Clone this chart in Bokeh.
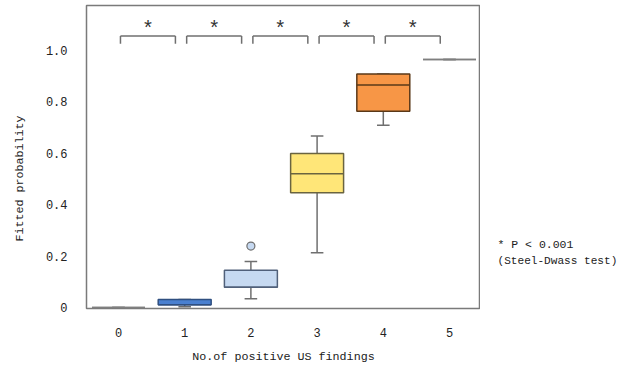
import math
from bokeh.plotting import figure
from bokeh.layouts import row
from bokeh.models import Range1d, FixedTicker, ColumnDataSource, CustomJSTickFormatter
from bokeh.core.properties import value
from bokeh.embed import file_html
from bokeh.resources import INLINE

# ---- data ----
categories = [0, 1, 2, 3, 4, 5]
whisker_low = [0.0, 0.003, 0.034, 0.213, 0.709, 0.965]
q1 = [0.0, 0.011, 0.079, 0.446, 0.764, 0.965]
median = [0.0, 0.011, 0.079, 0.520, 0.866, 0.965]
q3 = [0.0, 0.031, 0.145, 0.599, 0.908, 0.965]
whisker_high = [0.0, 0.031, 0.179, 0.667, 0.908, 0.965]
outlier_x = [2]
outlier_y = [0.239]
comparisons = [(0, 1), (1, 2), (2, 3), (3, 4), (4, 5)]
y_ticks = [0, 0.2, 0.4, 0.6, 0.8, 1.0]
note_lines = ["* P < 0.001", "(Steel-Dwass test)"]

fills = ["#7f7f7f", "#4a80d0", "#c6d9f1", "#ffe678", "#f79646", "#7f7f7f"]
edges = ["#7f7f7f", "#2f4f80", "#50607a", "#6a6440", "#5a3818", "#7f7f7f"]

FONT = "Liberation Mono"
H = 367
LW = 30     # width of the strip that holds the y-axis title
RW = 138    # width of the strip that holds the note
FRAME_TOP, FRAME_BOTTOM = 5, 308

# ---------- main plot ----------
p = figure(width=618 - LW - RW, height=H,
           x_range=Range1d(-0.483, 5.468), y_range=Range1d(-0.004, 1.175),
           output_backend="svg", toolbar_location=None,
           min_border_left=86 - LW, min_border_right=0,
           min_border_top=FRAME_TOP, min_border_bottom=H - FRAME_BOTTOM)
p.xgrid.visible = False
p.ygrid.visible = False
p.outline_line_color = "#7a7a7a"
p.outline_line_width = 1.5
p.background_fill_color = "white"
p.border_fill_color = "white"

for ax in (p.xaxis[0], p.yaxis[0]):
    ax.axis_line_color = None
    ax.major_tick_line_color = None
    ax.minor_tick_line_color = None
    ax.major_tick_out = 0
    ax.major_tick_in = 0
    ax.minor_tick_out = 0
    ax.major_label_text_font = FONT
    ax.major_label_text_font_size = "12px"
    ax.major_label_text_color = "#222222"
    ax.axis_label_text_font = FONT
    ax.axis_label_text_font_size = "11.7px"
    ax.axis_label_text_font_style = "normal"
    ax.axis_label_text_color = "#222222"

p.xaxis.ticker = FixedTicker(ticks=categories)
p.xaxis.major_label_standoff = 19
p.xaxis.axis_label = "No.of positive US findings"
p.xaxis.axis_label_standoff = 10

p.yaxis.ticker = FixedTicker(ticks=y_ticks)
p.yaxis.formatter = CustomJSTickFormatter(code="return Math.abs(tick) < 1e-9 ? '0' : tick.toFixed(1);")
p.yaxis.major_label_standoff = 19

bw = 0.8
cap = 0.19
src = ColumnDataSource(dict(
    x=categories, lo=whisker_low, q1=q1, med=median, q3=q3, hi=whisker_high,
    left=[c - bw / 2 for c in categories], right=[c + bw / 2 for c in categories],
    cl=[c - cap / 2 for c in categories], cr=[c + cap / 2 for c in categories],
    fill=fills, edge=edges,
))

# whiskers
p.segment(x0="x", y0="lo", x1="x", y1="q1", source=src, line_color="#6f6f6f", line_width=1.5)
p.segment(x0="x", y0="q3", x1="x", y1="hi", source=src, line_color="#6f6f6f", line_width=1.5)
p.segment(x0="cl", y0="lo", x1="cr", y1="lo", source=src, line_color="#6f6f6f", line_width=1.5)
p.segment(x0="cl", y0="hi", x1="cr", y1="hi", source=src, line_color="#6f6f6f", line_width=1.5)
# boxes
p.quad(left="left", right="right", bottom="q1", top="q3", source=src,
       fill_color="fill", line_color="edge", line_width=1.5)
# medians
p.segment(x0="left", y0="med", x1="right", y1="med", source=src, line_color="edge", line_width=1.5)

# outliers
p.scatter(outlier_x, outlier_y, size=8, fill_color="#c6d9f1", line_color="#6f6f6f", line_width=1.2)

# significance brackets
br_y = 1.056
br_tick = 1.026
bx0 = [a + 0.03 for a, b in comparisons]
bx1 = [b - 0.14 for a, b in comparisons]
n = len(comparisons)
p.segment(x0=bx0, y0=[br_y] * n, x1=bx1, y1=[br_y] * n, line_color="#6f6f6f", line_width=1.5)
p.segment(x0=bx0, y0=[br_y] * n, x1=bx0, y1=[br_tick] * n, line_color="#6f6f6f", line_width=1.5)
p.segment(x0=bx1, y0=[br_y] * n, x1=bx1, y1=[br_tick] * n, line_color="#6f6f6f", line_width=1.5)
p.text(x=[(a + b) / 2 for a, b in zip(bx0, bx1)], y=[1.083] * n, text=["*"] * n,
       text_font=value(FONT), text_font_size="20px", text_align="center", text_baseline="middle",
       text_color="#333333")


def strip(width):
    # row() aligns this strip's frame with the main frame, so its y range covers the
    # same page rows (value = H - page row)
    f = figure(width=width, height=H, x_range=Range1d(0, width),
               y_range=Range1d(H - FRAME_BOTTOM, H - FRAME_TOP),
               output_backend="svg", toolbar_location=None,
               x_axis_type=None, y_axis_type=None, min_border=0,
               min_border_top=FRAME_TOP, min_border_bottom=H - FRAME_BOTTOM)
    f.xgrid.visible = False
    f.ygrid.visible = False
    f.outline_line_color = None
    f.background_fill_color = "white"
    f.border_fill_color = "white"
    return f


# ---------- left strip: y-axis title (sits below the frame centre, as in the reference) ----------
pl = strip(LW)
pl.text(x=[19], y=[H - 178], text=["Fitted probability"], angle=math.pi / 2,
        text_font=value(FONT), text_font_size="11.7px", text_align="center", text_baseline="middle",
        text_color="#222222")

# ---------- right strip: test note ----------
pr = strip(RW)
pr.text(x=[17, 17], y=[H - 244, H - 260], text=note_lines,
        text_font=value(FONT), text_font_size=["11.5px", "11.1px"], text_align="left",
        text_baseline="middle", text_color="#222222")

layout = row(pl, p, pr, spacing=0)
open("out.html", "w").write(file_html(layout, INLINE))
